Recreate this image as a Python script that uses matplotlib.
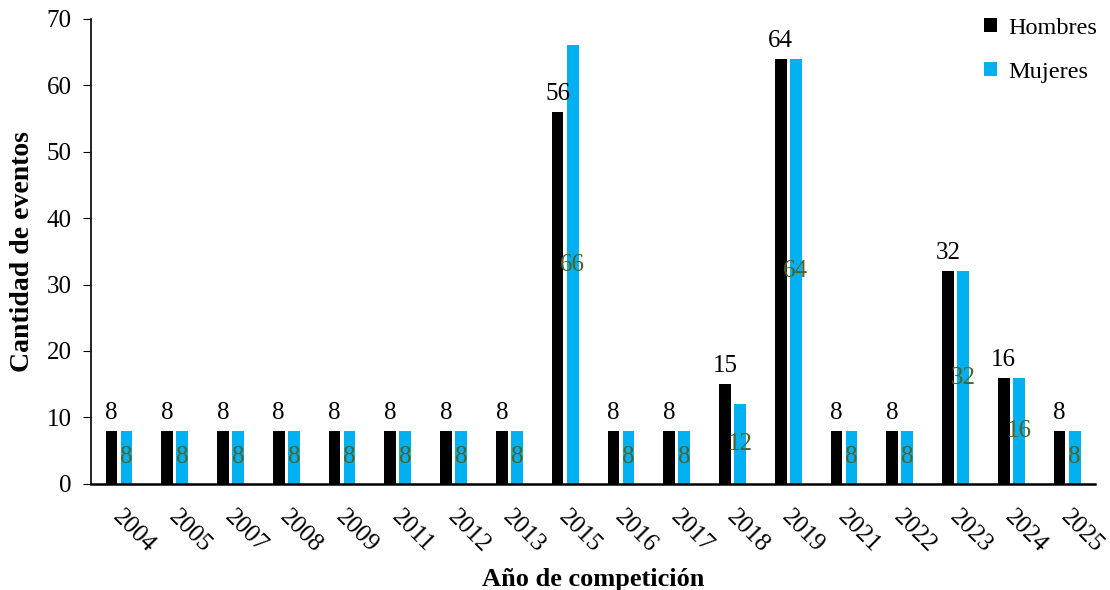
import matplotlib
matplotlib.use("Agg")
import matplotlib.pyplot as plt
import matplotlib.transforms as mtransforms
import numpy as np

plt.rcParams['font.family'] = ['Liberation Serif', 'DejaVu Serif']

years = ['2004', '2005', '2007', '2008', '2009', '2011', '2012', '2013', '2015',
         '2016', '2017', '2018', '2019', '2021', '2022', '2023', '2024', '2025']
hombres = [8, 8, 8, 8, 8, 8, 8, 8, 56, 8, 8, 15, 64, 8, 8, 32, 16, 8]
mujeres = [8, 8, 8, 8, 8, 8, 8, 8, 66, 8, 8, 12, 64, 8, 8, 32, 16, 8]

c_h = '#000000'
c_m = '#00b0f0'
c_lbl = '#4f6228'

fig = plt.figure(figsize=(11.1, 5.9), dpi=100)
ax = fig.add_axes([0.082, 0.18, 0.9045, 0.788])

x = np.arange(len(years))
w = 0.21
off = 0.135
ax.bar(x - off, hombres, w, color=c_h, label='Hombres')
ax.bar(x + off, mujeres, w, color=c_m, label='Mujeres')

# value labels: men above the bar, women centred inside it
for xi, v in zip(x - off, hombres):
    ax.annotate(str(v), (xi, v), xytext=(0, 5), textcoords='offset points',
                ha='center', va='bottom', fontsize=18, color='black')
for xi, v in zip(x + off, mujeres):
    ax.text(xi, v / 2, str(v), ha='center', va='center', fontsize=18, color=c_lbl)

ax.set_xlim(-0.5, len(years) - 0.5)
ax.set_ylim(0, 70)
ax.set_yticks(range(0, 71, 10))
ax.set_xticks(x)
ax.set_xticklabels(years, rotation=-45, ha='left', va='top', rotation_mode='anchor')
ax.tick_params(axis='x', length=0, pad=16, labelsize=18)
ax.tick_params(axis='y', length=6, labelsize=18, direction='out', pad=8)

# nudge the slanted year labels a little to the right
shift = mtransforms.ScaledTranslation(5 / 100, 0, fig.dpi_scale_trans)
for lbl in ax.get_xticklabels():
    lbl.set_transform(lbl.get_transform() + shift)

ax.spines['top'].set_visible(False)
ax.spines['right'].set_visible(False)
ax.spines['left'].set_linewidth(1.2)
ax.spines['bottom'].set_linewidth(1.8)

ax.set_ylabel('Cantidad de eventos', fontsize=20, fontweight='bold', labelpad=8)
ax.set_xlabel('Año de competición', fontsize=19, fontweight='bold', labelpad=8)

ax.legend(loc='upper right', bbox_to_anchor=(1.024, 1.05), frameon=False, fontsize=17.5,
          handlelength=0.55, handleheight=0.55, handletextpad=0.45, labelspacing=0.95)

fig.savefig('out.png', dpi=100)
